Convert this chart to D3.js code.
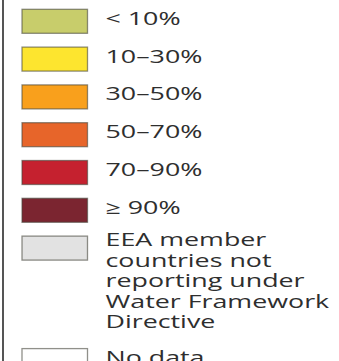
<!DOCTYPE html>
<html><head><meta charset="utf-8">
<script src="https://cdn.jsdelivr.net/npm/d3@7"></script>
<style>html,body{margin:0;padding:0;background:#fff;overflow:hidden}</style>
</head><body>
<svg id="c" width="339" height="361"></svg>
<script>
const categories = ["< 10%", "10–30%", "30–50%", "50–70%", "70–90%", "≥ 90%",
  "EEA member\ncountries not\nreporting under\nWater Framework\nDirective", "No data"];
const colors = ["#c8cd6b", "#fde52f", "#f9a01c", "#e7652a", "#c5212f", "#7b2530", "#e2e2e2", "#ffffff"];

const svg = d3.select("#c");
const W = 339, H = 361;
svg.append("rect").attr("width", W).attr("height", H).attr("fill", "#fff");
svg.append("line").attr("x1", 3).attr("x2", 3).attr("y1", 0).attr("y2", H)
  .attr("stroke", "#555").attr("stroke-width", 2);

const lineH = 20.5, step = 37.8, swH = 24;
let tops = [], t = 9.3;
categories.forEach((c, i) => {
  tops.push(t);
  const n = c.split("\n").length;
  t += n > 1 ? (n * lineH + 10) : step;
});
const y = d3.scaleOrdinal().domain(categories).range(tops);

const g = svg.selectAll("g.row").data(categories).join("g").attr("class", "row");
g.append("rect")
  .attr("x", 22).attr("y", d => y(d)).attr("width", 65.5).attr("height", swH)
  .attr("fill", (d, i) => colors[i])
  .attr("stroke", "rgba(70,70,60,0.6)").attr("stroke-width", 1.3);

g.each(function(d) {
  const lines = d.split("\n");
  const base = lines.length > 1 ? y(d) + 10 : y(d) + 15.5;
  const txt = d3.select(this).append("text")
    .attr("transform", `translate(105.5,${base}) scale(1.49,1)`)
    .attr("font-family", "'Open Sans', sans-serif").attr("font-size", 18)
    .attr("font-weight", 500)
    .attr("fill", "#2e2e2e");
  lines.forEach((l, k) => txt.append("tspan").attr("x", 0).attr("y", k * lineH).text(l));
});
</script>
</body></html>
